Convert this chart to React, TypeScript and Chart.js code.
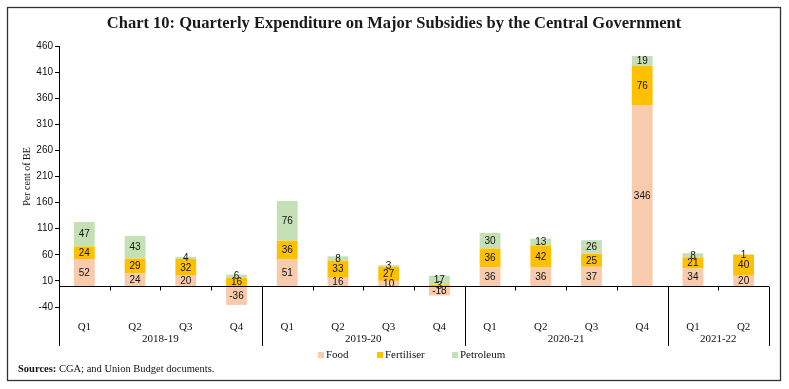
import React, { useEffect, useRef } from 'react';
import { Chart, registerables } from 'chart.js';

Chart.register(...registerables);

const quarters = ['Q1', 'Q2', 'Q3', 'Q4', 'Q1', 'Q2', 'Q3', 'Q4', 'Q1', 'Q2', 'Q3', 'Q4', 'Q1', 'Q2'];
const years = ['2018-19', '2019-20', '2020-21', '2021-22'];
const quartersPerYear = [4, 4, 4, 2];
const food = [52, 24, 20, -36, 51, 16, 10, -18, 36, 36, 37, 346, 34, 20];
const fertiliser = [24, 29, 32, 16, 36, 33, 27, 3, 36, 42, 25, 76, 21, 40];
const petroleum = [47, 43, 4, 6, 76, 8, 3, 17, 30, 13, 26, 19, 8, 1];
const yMin = -40;
const yMax = 460;
const yStep = 50;

const titleText = 'Chart 10: Quarterly Expenditure on Major Subsidies by the Central Government';
const yTitle = 'Per cent of BE';
const sourceLabel = 'Sources:';
const sourceText = ' CGA; and Union Budget documents.';

const SERIF = '"Liberation Serif", "DejaVu Serif", serif';
const SANS = '"Liberation Sans", Arial, sans-serif';

const decorPlugin = {
  id: 'decor',
  afterDatasetsDraw(chart: any) {
    const ctx = chart.ctx;
    ctx.save();
    ctx.font = `10px ${SANS}`;
    ctx.fillStyle = '#111';
    ctx.textAlign = 'center';
    ctx.textBaseline = 'middle';
    chart.data.datasets.forEach((ds: any, di: number) => {
      const meta = chart.getDatasetMeta(di);
      meta.data.forEach((el: any, i: number) => {
        const v = ds.data[i];
        const props = el.getProps(['x', 'y', 'base'], true);
        const cy = (props.y + props.base) / 2;
        ctx.fillText(String(v), props.x, cy + 0.5);
      });
    });
    ctx.restore();
  },
  afterDraw(chart: any) {
    const ctx = chart.ctx;
    const area = chart.chartArea;
    const xs = chart.scales.x;
    const ys = chart.scales.y;
    ctx.save();

    // outer border
    ctx.strokeStyle = '#333';
    ctx.lineWidth = 1.3;
    ctx.strokeRect(7.5, 7.5, 773, 373);

    // title
    ctx.fillStyle = '#1a1a1a';
    ctx.font = `bold 16.5px ${SERIF}`;
    ctx.textAlign = 'center';
    ctx.textBaseline = 'middle';
    ctx.fillText(titleText, 394, 24);

    // zero axis line
    const y0 = Math.round(ys.getPixelForValue(0)) + 0.5;
    ctx.strokeStyle = '#000';
    ctx.lineWidth = 1;
    ctx.beginPath();
    ctx.moveTo(area.left, y0);
    ctx.lineTo(area.right, y0);
    ctx.stroke();

    const bottomLine = 346;
    const n = quarters.length;
    const half = (xs.getPixelForValue(1) - xs.getPixelForValue(0)) / 2;
    const boundaries = new Set<number>();
    let acc = 0;
    boundaries.add(0);
    quartersPerYear.forEach((q) => {
      acc += q;
      boundaries.add(acc);
    });
    for (let i = 0; i <= n; i++) {
      const x = Math.round(xs.getPixelForValue(0) - half + i * 2 * half) + 0.5;
      ctx.beginPath();
      if (boundaries.has(i)) {
        ctx.moveTo(x, i === 0 ? area.bottom : y0);
        ctx.lineTo(x, bottomLine);
      } else {
        ctx.moveTo(x, y0);
        ctx.lineTo(x, y0 + 4);
      }
      ctx.stroke();
    }

    // year labels
    ctx.font = `11px ${SERIF}`;
    ctx.fillStyle = '#111';
    let start = 0;
    quartersPerYear.forEach((q, gi) => {
      const x1 = xs.getPixelForValue(start) - half;
      const x2 = xs.getPixelForValue(start + q - 1) + half;
      ctx.fillText(years[gi], (x1 + x2) / 2, 339);
      start += q;
    });

    // legend
    const legendPos = [318, 377, 452];
    ctx.textAlign = 'left';
    ctx.font = `11px ${SERIF}`;
    chart.data.datasets.forEach((ds: any, di: number) => {
      const lx = legendPos[di];
      ctx.fillStyle = ds.backgroundColor;
      ctx.fillRect(lx, 352, 6, 6);
      ctx.fillStyle = '#111';
      ctx.fillText(ds.label, lx + 8, 355);
    });

    // sources
    ctx.font = `bold 10.5px ${SERIF}`;
    ctx.fillText(sourceLabel, 18, 369);
    const w = ctx.measureText(sourceLabel).width;
    ctx.font = `10.5px ${SERIF}`;
    ctx.fillText(sourceText, 18 + w, 369);

    ctx.restore();
  },
};

export default function App() {
  const canvasRef = useRef<HTMLCanvasElement | null>(null);

  useEffect(() => {
    const canvas = canvasRef.current;
    if (!canvas) return;
    const chart = new Chart(canvas, {
      type: 'bar',
      data: {
        labels: quarters,
        datasets: [
          { label: 'Food', data: food, backgroundColor: '#F8CBAD', stack: 's' },
          { label: 'Fertiliser', data: fertiliser, backgroundColor: '#FFC000', stack: 's' },
          { label: 'Petroleum', data: petroleum, backgroundColor: '#C5E0B4', stack: 's' },
        ],
      },
      options: {
        responsive: false,
        animation: false,
        devicePixelRatio: 1,
        layout: { padding: { left: 8, top: 46, right: 20, bottom: 0 } },
        datasets: { bar: { categoryPercentage: 1, barPercentage: 0.41 } },
        plugins: {
          legend: { display: false },
          title: { display: false },
          tooltip: { enabled: false },
        },
        scales: {
          x: {
            stacked: true,
            grid: { display: false },
            border: { display: false },
            ticks: {
              font: { family: SERIF, size: 11, lineHeight: 1.2 },
              color: '#111',
              padding: 6,
              maxRotation: 0,
              autoSkip: false,
            },
            afterFit: (scale: any) => {
              scale.height = 82;
            },
          },
          y: {
            stacked: true,
            min: yMin,
            max: yMax,
            ticks: {
              stepSize: yStep,
              font: { family: SANS, size: 10 },
              color: '#111',
              padding: 2,
            },
            grid: { drawOnChartArea: false, drawTicks: true, tickLength: 4, color: '#000' },
            border: { display: true, color: '#000' },
            title: {
              display: true,
              text: yTitle,
              font: { family: SERIF, size: 10, lineHeight: 1.2 },
              color: '#111',
              padding: { top: 13, bottom: 0 },
            },
            afterFit: (scale: any) => {
              scale.width = 51;
            },
          },
        },
      },
      plugins: [decorPlugin],
    });
    return () => chart.destroy();
  }, []);

  return (
    <div style={{ position: 'absolute', left: 0, top: 0, width: 789, height: 389, background: '#fff' }}>
      <canvas ref={canvasRef} width={789} height={389} style={{ display: 'block' }} />
    </div>
  );
}
